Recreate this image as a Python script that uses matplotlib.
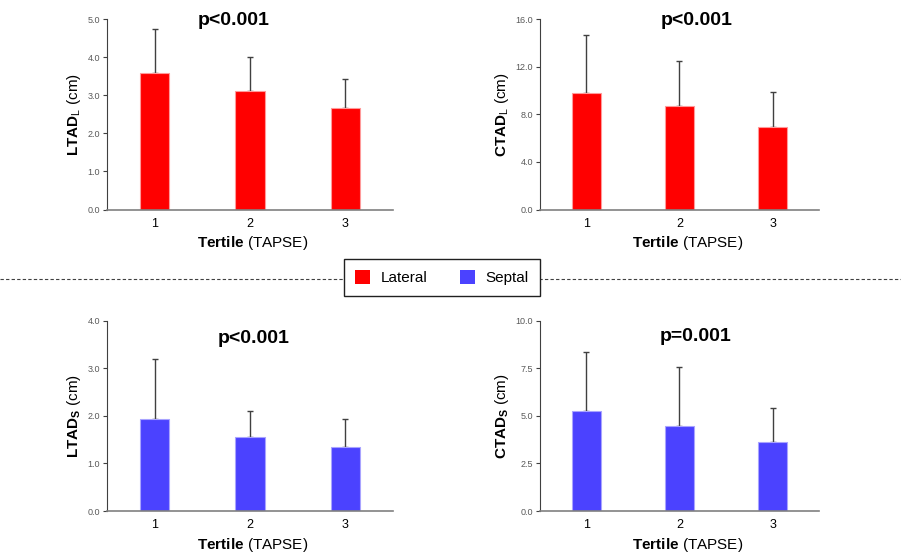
import numpy as np
import matplotlib
matplotlib.use('Agg')
from matplotlib import pyplot as plt
from matplotlib.patches import Patch
from matplotlib.lines import Line2D

plt.rcParams['font.family'] = ['Liberation Sans', 'DejaVu Sans']
plt.rcParams['mathtext.fontset'] = 'custom'
plt.rcParams['mathtext.rm'] = 'Liberation Sans'
plt.rcParams['mathtext.bf'] = 'Liberation Sans:bold'
plt.rcParams['mathtext.it'] = 'Liberation Sans:italic'

tertiles = ['1', '2', '3']

# lateral (red) and septal (blue) means with SD
ltad_lat    = [3.59, 3.10, 2.66]
ltad_lat_sd = [1.16, 0.90, 0.77]
ctad_lat    = [9.80, 8.66, 6.94]
ctad_lat_sd = [4.85, 3.78, 2.94]

ltad_sep    = [1.93, 1.55, 1.34]
ltad_sep_sd = [1.26, 0.56, 0.60]
ctad_sep    = [5.27, 4.48, 3.64]
ctad_sep_sd = [3.07, 3.10, 1.77]

p_values = ['p<0.001', 'p<0.001', 'p<0.001', 'p=0.001']

red  = '#FF0000'
blue = '#4B42FF'

fig = plt.figure(figsize=(9.01, 5.54), dpi=100)

panels = [
    # rect, means, sd, color, ylabel, ymax, ystep, title pos, ylabel offset
    ([0.1188, 0.6218, 0.3174, 0.3439], ltad_lat, ltad_lat_sd, red,  r'$\mathbf{LTAD}_\mathrm{L}$ (cm)', 5.0, 1.0, (0.444, 0.99), -0.083),
    ([0.5993, 0.6218, 0.3097, 0.3439], ctad_lat, ctad_lat_sd, red,  r'$\mathbf{CTAD}_\mathrm{L}$ (cm)', 16.0, 4.0, (0.561, 0.99), -0.105),
    ([0.1188, 0.0776, 0.3174, 0.3435], ltad_sep, ltad_sep_sd, blue, r'$\mathbf{LTAD}_\mathbf{S}$ (cm)', 4.0, 1.0, (0.512, 0.907), -0.083),
    ([0.5993, 0.0776, 0.3097, 0.3435], ctad_sep, ctad_sep_sd, blue, r'$\mathbf{CTAD}_\mathbf{S}$ (cm)', 10.0, 2.5, (0.559, 0.916), -0.105),
]

x = np.arange(len(tertiles))
for i, (rect, means, sd, col, ylab, ymax, ystep, tpos, yoff) in enumerate(panels):
    ax = fig.add_axes(rect)
    edge = '#FF9A9A' if col == red else '#A9A4FF'
    ax.errorbar(x, means, yerr=[np.zeros(3), sd], fmt='none', ecolor='#404040',
                elinewidth=1.0, capsize=2.5, capthick=1.0, zorder=1)
    ax.bar(x, means, width=0.31, color=col, edgecolor=edge, linewidth=0.8, zorder=2)
    ax.set_xlim(-0.5, 2.5)
    ax.set_ylim(0, ymax)
    ticks = np.arange(0, ymax + ystep / 2, ystep)
    ax.set_yticks(ticks)
    ax.set_yticklabels(['%.1f' % v for v in ticks], fontsize=6.5, color='#595959')
    ax.set_xticks(x)
    ax.set_xticklabels(tertiles, fontsize=9)
    ax.tick_params(axis='x', length=0, pad=6)
    ax.tick_params(axis='y', length=3, width=0.8, color='#404040', pad=2)
    for s in ['top', 'right']:
        ax.spines[s].set_visible(False)
    ax.spines['left'].set_color('#404040')
    ax.spines['bottom'].set_color('#808080')
    ax.spines['bottom'].set_linewidth(1.2)
    ax.set_ylabel(ylab, fontsize=11)
    ax.yaxis.set_label_coords(yoff, 0.5)
    ax.set_xlabel(r'$\mathbf{Tertile}$ (TAPSE)', fontsize=11)
    ax.xaxis.set_label_coords(0.51 if i % 2 == 0 else 0.53, -0.13)
    ax.text(tpos[0], tpos[1], p_values[i], transform=ax.transAxes, ha='center', va='center',
            fontsize=14, fontweight='bold')

# dashed separator between the lateral and septal rows
fig.add_artist(Line2D([0, 1], [0.4964, 0.4964], transform=fig.transFigure,
                      color='#404040', lw=0.8, ls=(0, (3, 2)), zorder=0))

handles = [Patch(facecolor=red, edgecolor='none'), Patch(facecolor=blue, edgecolor='none')]
leg = fig.legend(handles, ['Lateral', 'Septal'], loc='center', bbox_to_anchor=(0.4906, 0.4987),
                 ncol=2, fontsize=11, frameon=True, fancybox=False, edgecolor='#202020',
                 framealpha=1, handlelength=1.0, handleheight=1.0, handletextpad=0.7,
                 columnspacing=2.1, borderpad=0.7)
leg.get_frame().set_linewidth(1.0)
leg.set_zorder(5)

fig.savefig('out.png', dpi=100)
